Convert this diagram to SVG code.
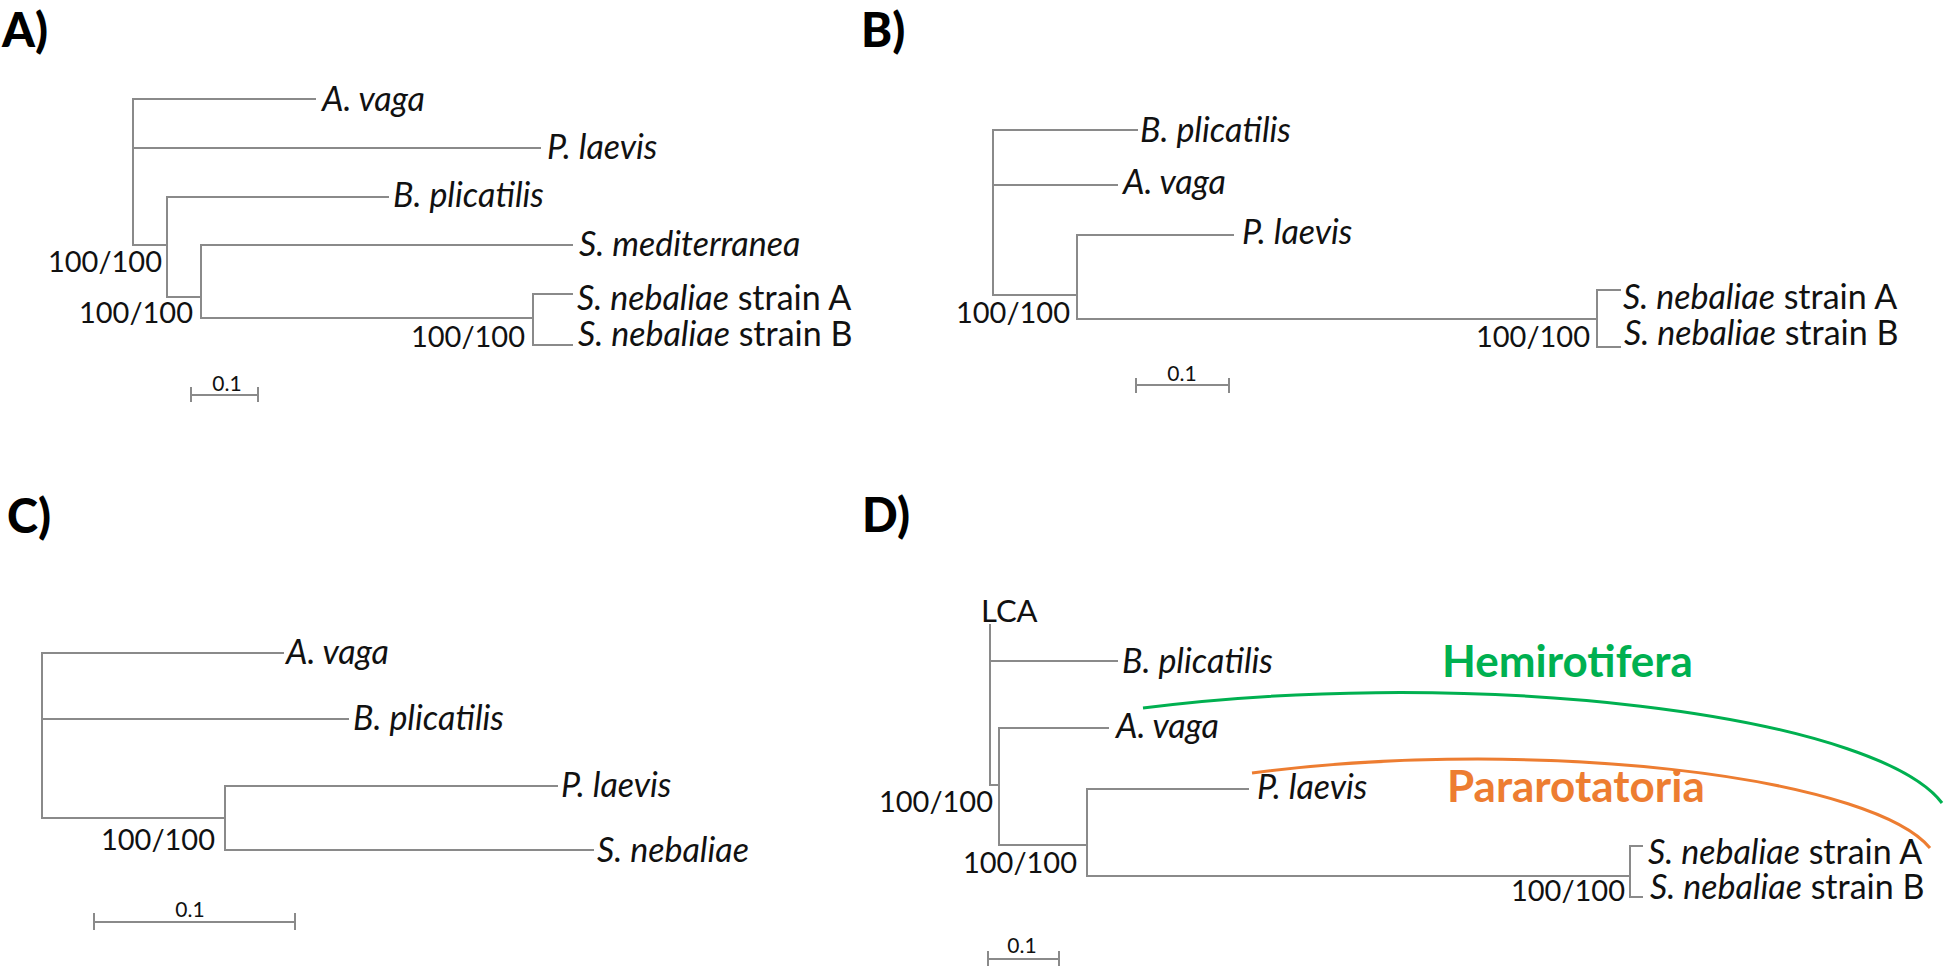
<svg xmlns="http://www.w3.org/2000/svg" width="1946" height="969" viewBox="0 0 1946 969">
<style>
.br{fill:none;stroke:#8a8a8a;stroke-width:2;stroke-linecap:square}
.tx{font-family:Lato,"Open Sans","Liberation Sans",sans-serif;font-size:34px;fill:#111}
.it{font-style:italic}
.bs{font-family:Lato,"Open Sans","Liberation Sans",sans-serif;font-size:29px;fill:#111;text-anchor:end}
.sc{font-family:Lato,"Open Sans","Liberation Sans",sans-serif;font-size:21px;fill:#111;text-anchor:middle}
.pl{font-family:Lato,"Open Sans","Liberation Sans",sans-serif;font-size:47px;font-weight:900;fill:#000}
.cl{font-family:Lato,"Open Sans","Liberation Sans",sans-serif;font-size:44px;font-weight:bold}
</style>
<rect width="1946" height="969" fill="#fff"/>

<!-- Panel A -->
<g id="panelA">
  <text class="pl" x="2" y="47">A)</text>
  <g id="A-connectors">
    <path class="br" d="M133 99V245M133 99H315M133 148H540M133 245H167M167 197V297M167 197H388M167 297H201M201 245V318M201 245H572M201 318H533M533 294V345M533 294H572M533 345H572"/>
    <path class="br" d="M191 395H258M191 388V401M258 388V401"/>
  </g>
  <g id="A-avaga"><text class="tx it" x="322" y="111">A. vaga</text></g>
  <g id="A-plaevis"><text class="tx it" x="547" y="159">P. laevis</text></g>
  <g id="A-bplic"><text class="tx it" x="393" y="207">B. plicatilis</text></g>
  <g id="A-smed"><text class="tx it" x="579" y="256">S. mediterranea</text></g>
  <g id="A-sneba"><text class="tx" x="577" y="310"><tspan class="it">S. nebaliae</tspan> strain A</text></g>
  <g id="A-snebb"><text class="tx" x="578" y="346"><tspan class="it">S. nebaliae</tspan> strain B</text></g>
  <text class="bs" x="162" y="272">100/100</text>
  <text class="bs" x="193" y="323">100/100</text>
  <text class="bs" x="525" y="347">100/100</text>
  <text class="sc" x="227" y="391">0.1</text>
</g>

<!-- Panel B -->
<g id="panelB">
  <text class="pl" x="861" y="47">B)</text>
  <g id="B-connectors">
    <path class="br" d="M993 130V295M993 130H1137M993 185H1117M993 295H1077M1077 235V319M1077 235H1233M1077 319H1597M1597 290V347M1597 290H1620M1597 347H1620"/>
    <path class="br" d="M1136 385H1229M1136 379V392M1229 379V392"/>
  </g>
  <g id="B-bplic"><text class="tx it" x="1140" y="142">B. plicatilis</text></g>
  <g id="B-avaga"><text class="tx it" x="1123" y="194">A. vaga</text></g>
  <g id="B-plaevis"><text class="tx it" x="1242" y="244">P. laevis</text></g>
  <g id="B-sneba"><text class="tx" x="1623" y="309"><tspan class="it">S. nebaliae</tspan> strain A</text></g>
  <g id="B-snebb"><text class="tx" x="1624" y="345"><tspan class="it">S. nebaliae</tspan> strain B</text></g>
  <text class="bs" x="1070" y="323">100/100</text>
  <text class="bs" x="1590" y="347">100/100</text>
  <text class="sc" x="1182" y="381">0.1</text>
</g>

<!-- Panel C -->
<g id="panelC">
  <text class="pl" x="7" y="533">C)</text>
  <g id="C-connectors">
    <path class="br" d="M42 653V818M42 653H283M42 719H348M42 818H225M225 786V850M225 786H557M225 850H593"/>
    <path class="br" d="M94 922H295M94 914V929M295 914V929"/>
  </g>
  <g id="C-avaga"><text class="tx it" x="286" y="664">A. vaga</text></g>
  <g id="C-bplic"><text class="tx it" x="353" y="730">B. plicatilis</text></g>
  <g id="C-plaevis"><text class="tx it" x="561" y="797">P. laevis</text></g>
  <g id="C-sneb"><text class="tx it" x="597" y="862">S. nebaliae</text></g>
  <text class="bs" x="215" y="850">100/100</text>
  <text class="sc" x="190" y="917">0.1</text>
</g>

<!-- Panel D -->
<g id="panelD">
  <text class="pl" x="862" y="532">D)</text>
  <g id="D-connectors">
    <path class="br" d="M990 625V785M990 661H1117M990 785H999M999 728V845M999 728H1108M999 845H1087M1087 789V876M1087 789H1248M1087 876H1630M1630 846V897M1630 846H1642M1630 897H1642"/>
    <path class="br" d="M988 959H1059M988 952V965M1059 952V965"/>
  </g>
  <g id="D-lca"><text class="tx" x="981" y="622" style="font-size:31px">LCA</text></g>
  <g id="D-bplic"><text class="tx it" x="1122" y="673">B. plicatilis</text></g>
  <g id="D-avaga"><text class="tx it" x="1116" y="738">A. vaga</text></g>
  <g id="D-plaevis"><text class="tx it" x="1257" y="799">P. laevis</text></g>
  <g id="D-sneba"><text class="tx" x="1648" y="864"><tspan class="it">S. nebaliae</tspan> strain A</text></g>
  <g id="D-snebb"><text class="tx" x="1650" y="899"><tspan class="it">S. nebaliae</tspan> strain B</text></g>
  <text class="bs" x="993" y="812">100/100</text>
  <text class="bs" x="1077" y="873">100/100</text>
  <text class="bs" x="1625" y="901">100/100</text>
  <text class="sc" x="1022" y="953">0.1</text>
  <g id="D-hemi">
    <path d="M1143 708A552 135 0 0 1 1942 803" fill="none" stroke="#00b050" stroke-width="3"/>
    <text class="cl" x="1442" y="677" fill="#00b050">Hemirotifera</text>
  </g>
  <g id="D-para">
    <path d="M1252 773A462 110 0 0 1 1930 848" fill="none" stroke="#ed7d31" stroke-width="3"/>
    <text class="cl" x="1447" y="802" fill="#ed7d31">Pararotatoria</text>
  </g>
</g>
</svg>
